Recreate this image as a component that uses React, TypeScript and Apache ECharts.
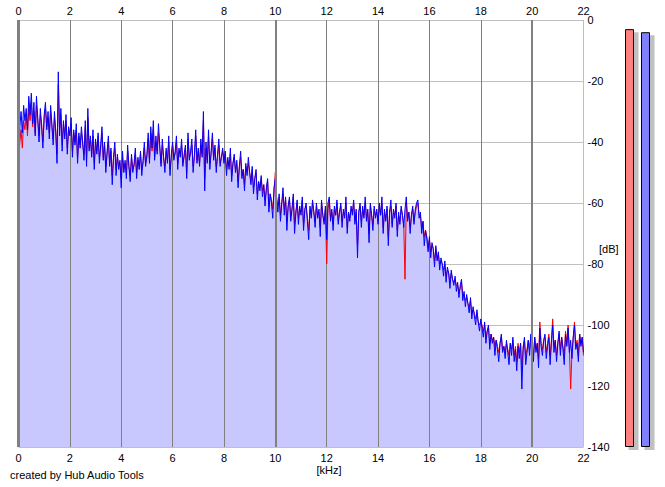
import React, { useEffect, useRef } from 'react';
import * as echarts from 'echarts';

// Frequency axis (kHz)
const FREQ_STEP_KHZ = 0.05;
const FREQ_MIN_KHZ = 0;
const FREQ_MAX_KHZ = 22;
const FREQ_TICK_KHZ = 2;
// Level axis (dB)
const DB_MIN = -140;
const DB_MAX = 0;
const DB_TICK = 20;

// Left channel spectrum (red), dB at 0.00, 0.05, ... 22.00 kHz
const leftChannelDb = [
  -48, -40, -36, -42, -33, -36, -31, -38, -29, -33,
  -27, -35, -30, -37, -28, -33, -38, -31, -34, -40,
  -32, -29, -35, -32, -37, -30, -35, -39, -32, -36,
  -44, -21, -36, -31, -41, -34, -38, -33, -42, -36,
  -37, -34, -43, -37, -40, -36, -45, -38, -41, -37,
  -41, -44, -35, -46, -32, -42, -39, -44, -38, -47,
  -40, -43, -38, -45, -42, -37, -45, -41, -48, -44,
  -40, -47, -43, -51, -45, -42, -49, -45, -48, -47,
  -52, -45, -49, -47, -50, -43, -48, -51, -45, -49,
  -48, -44, -50, -46, -48, -44, -49, -47, -42, -47,
  -45, -39, -46, -37, -43, -36, -45, -40, -43, -37,
  -42, -47, -41, -45, -48, -43, -46, -40, -49, -45,
  -41, -45, -44, -40, -47, -43, -44, -41, -47, -45,
  -42, -50, -39, -45, -44, -41, -48, -45, -38, -46,
  -43, -47, -41, -44, -33, -52, -42, -46, -38, -47,
  -44, -39, -45, -42, -48, -45, -41, -47, -45, -43,
  -46, -44, -49, -46, -48, -44, -51, -47, -45, -49,
  -47, -53, -48, -45, -51, -49, -54, -48, -50, -47,
  -50, -53, -49, -55, -52, -50, -57, -53, -55, -52,
  -56, -54, -59, -56, -53, -61, -57, -59, -62, -56,
  -50, -58, -61, -58, -64, -60, -57, -62, -59, -66,
  -61, -59, -64, -62, -58, -67, -63, -60, -65, -62,
  -63, -59, -67, -62, -61, -65, -69, -62, -64, -60,
  -63, -66, -61, -64, -63, -68, -60, -64, -66, -62,
  -80, -62, -59, -65, -63, -67, -62, -64, -60, -66,
  -63, -61, -66, -63, -64, -60, -68, -63, -65, -62,
  -63, -60, -66, -63, -74, -63, -61, -66, -62, -64,
  -60, -65, -63, -70, -61, -64, -67, -62, -64, -63,
  -66, -61, -64, -60, -68, -63, -65, -62, -71, -63,
  -61, -67, -63, -64, -61, -69, -64, -66, -62, -64,
  -67, -85, -60, -65, -63, -68, -64, -62, -66, -63,
  -61, -60, -64, -64, -68, -66, -71, -69, -71, -74,
  -72, -76, -74, -75, -79, -75, -78, -77, -80, -79,
  -80, -82, -80, -84, -82, -83, -86, -83, -85, -86,
  -85, -87, -87, -89, -88, -86, -90, -90, -92, -91,
  -93, -94, -92, -96, -95, -96, -98, -96, -99, -100,
  -99, -100, -102, -100, -104, -102, -101, -106, -103, -105,
  -104, -107, -105, -107, -109, -106, -104, -108, -107, -109,
  -106, -108, -110, -106, -108, -105, -110, -107, -112, -106,
  -109, -106, -115, -107, -105, -110, -108, -105, -108, -104,
  -107, -110, -104, -108, -106, -111, -99, -106, -108, -105,
  -104, -109, -106, -103, -110, -105, -98, -107, -105, -110,
  -106, -103, -108, -104, -107, -110, -102, -106, -100, -108,
  -121, -109, -104, -99, -107, -105, -110, -103, -106, -104,
  -110,
];

// Right channel spectrum (blue), dB at 0.00, 0.05, ... 22.00 kHz
const rightChannelDb = [
  -64, -35, -30, -37, -28, -33, -29, -36, -25, -31,
  -24, -34, -27, -38, -25, -32, -40, -29, -35, -42,
  -31, -27, -36, -30, -39, -28, -34, -41, -30, -37,
  -47, -17, -38, -29, -43, -33, -39, -31, -44, -35,
  -38, -32, -45, -36, -41, -34, -47, -37, -42, -35,
  -40, -46, -33, -48, -29, -43, -38, -45, -36, -49,
  -39, -44, -37, -47, -41, -35, -46, -40, -50, -43,
  -38, -48, -42, -54, -45, -40, -51, -44, -49, -46,
  -55, -43, -50, -46, -52, -41, -48, -53, -44, -50,
  -47, -42, -52, -45, -49, -43, -51, -46, -40, -48,
  -44, -37, -47, -35, -42, -33, -46, -38, -44, -34,
  -41, -48, -39, -45, -50, -42, -47, -38, -51, -44,
  -40, -46, -43, -38, -49, -42, -45, -39, -48, -44,
  -41, -52, -37, -46, -43, -39, -50, -44, -36, -47,
  -42, -48, -39, -45, -30, -56, -40, -47, -36, -49,
  -43, -37, -46, -41, -50, -44, -39, -48, -45, -42,
  -47, -43, -51, -45, -49, -42, -53, -47, -44, -50,
  -46, -55, -48, -43, -52, -49, -56, -47, -51, -45,
  -50, -54, -48, -57, -52, -49, -59, -53, -56, -51,
  -58, -54, -61, -55, -52, -63, -57, -60, -65, -55,
  -52, -59, -63, -57, -66, -60, -55, -64, -58, -69,
  -61, -58, -66, -62, -57, -70, -63, -59, -67, -61,
  -64, -58, -69, -62, -60, -66, -72, -61, -65, -59,
  -63, -68, -60, -65, -62, -71, -59, -64, -67, -61,
  -72, -60, -58, -66, -62, -69, -61, -64, -59, -67,
  -63, -60, -68, -62, -65, -58, -70, -63, -66, -61,
  -64, -59, -67, -62, -78, -63, -60, -68, -61, -65,
  -58, -66, -62, -73, -60, -64, -69, -61, -65, -62,
  -67, -60, -64, -58, -70, -62, -66, -61, -74, -63,
  -59, -68, -62, -65, -60, -71, -63, -67, -61, -64,
  -68, -62, -58, -66, -63, -70, -64, -61, -67, -62,
  -60, -59, -65, -63, -70, -66, -74, -69, -72, -76,
  -71, -78, -73, -75, -81, -74, -79, -76, -82, -78,
  -80, -84, -79, -86, -81, -83, -88, -82, -85, -87,
  -84, -89, -86, -91, -87, -85, -92, -89, -94, -90,
  -93, -96, -91, -98, -94, -97, -100, -95, -99, -102,
  -98, -101, -104, -99, -106, -102, -100, -108, -103, -106,
  -104, -110, -105, -108, -112, -106, -103, -109, -107, -111,
  -105, -109, -113, -106, -110, -104, -112, -108, -115, -107,
  -111, -106, -121, -108, -104, -113, -109, -105, -110, -103,
  -108, -112, -104, -109, -106, -114, -101, -107, -110, -105,
  -103, -111, -107, -104, -113, -106, -100, -109, -105, -112,
  -106, -102, -110, -104, -108, -113, -103, -107, -101, -109,
  -105, -111, -104, -100, -108, -106, -112, -103, -107, -104,
  -109,
];

// Peak level meters
const levelChannels = ['L', 'R'];
const levelDb = [-3, -4];

// Thicker vertical lines every 10 kHz
const majorFreqLinesKhz = [0, 10, 20];

const creditText = 'created by Hub Audio Tools';
const freqAxisName = '[kHz]';
const dbAxisName = '[dB]';

const FONT = '"Liberation Sans", Arial, sans-serif';

const toPoints = (arr: number[]) =>
  arr.map((v, i) => [Math.round(i * FREQ_STEP_KHZ * 100) / 100, v]);

export default function App() {
  const ref = useRef<HTMLDivElement>(null);

  useEffect(() => {
    document.body.style.margin = '0';
    if (!ref.current) return;
    const chart = echarts.init(ref.current, undefined, { renderer: 'svg' });

    const leftPts = toPoints(leftChannelDb);
    const rightPts = toPoints(rightChannelDb);
    const meterValues = levelDb.map((v) => v - DB_MIN);
    const meterColors = ['#ff8080', '#8080ff'];

    const option: any = {
      animation: false,
      textStyle: { fontFamily: FONT },
      title: {
        text: creditText,
        left: 10,
        top: 469,
        padding: 0,
        textStyle: { fontSize: 11, fontWeight: 'normal', color: '#000', fontFamily: FONT },
      },
      graphic: [
        {
          type: 'text',
          left: 599,
          top: 243,
          silent: true,
          style: { text: dbAxisName, fill: '#000', font: `11px ${FONT}` },
        },
      ],
      grid: [
        { left: 18.5, right: 81.5, top: 20, bottom: 40 },
        { left: 621.5, top: 20, width: 32, height: 427 },
        { left: 625.5, top: 23, width: 32, height: 427 },
      ],
      xAxis: [
        {
          type: 'value',
          gridIndex: 0,
          position: 'bottom',
          min: FREQ_MIN_KHZ,
          max: FREQ_MAX_KHZ,
          interval: FREQ_TICK_KHZ,
          z: 2,
          axisLine: { show: false },
          axisTick: { show: false },
          axisLabel: { color: '#000', fontSize: 11, margin: 5, fontFamily: FONT },
          splitLine: {
            show: true,
            lineStyle: {
              width: 1,
              color: ['#808080', '#808080', '#808080', '#808080', '#808080', '#808080',
                '#808080', '#808080', '#808080', '#808080', '#808080', '#c0c0c0'],
            },
          },
          name: freqAxisName,
          nameLocation: 'middle',
          nameGap: 17,
          nameMoveOverlap: false,
          nameTextStyle: { color: '#000', fontSize: 11, padding: [0, 0, 0, 56], fontFamily: FONT },
        },
        {
          type: 'value',
          gridIndex: 0,
          position: 'top',
          min: FREQ_MIN_KHZ,
          max: FREQ_MAX_KHZ,
          interval: FREQ_TICK_KHZ,
          axisLine: { show: false },
          axisTick: { show: false },
          axisLabel: { color: '#000', fontSize: 11, margin: 4, fontFamily: FONT },
          splitLine: { show: false },
        },
        { type: 'category', gridIndex: 1, data: levelChannels, show: false },
        { type: 'category', gridIndex: 2, data: levelChannels, show: false },
      ],
      yAxis: [
        {
          type: 'value',
          gridIndex: 0,
          position: 'right',
          min: DB_MIN,
          max: DB_MAX,
          interval: DB_TICK,
          axisLine: { show: false },
          axisTick: { show: false },
          axisLabel: { color: '#000', fontSize: 11, margin: 4, align: 'left', fontFamily: FONT },
          splitLine: { show: true, lineStyle: { color: '#c0c0c0', width: 1 } },
        },
        { type: 'value', gridIndex: 1, min: 0, max: DB_MAX - DB_MIN, show: false },
        { type: 'value', gridIndex: 2, min: 0, max: DB_MAX - DB_MIN, show: false },
      ],
      series: [
        {
          type: 'line',
          xAxisIndex: 0,
          yAxisIndex: 0,
          data: leftPts,
          showSymbol: false,
          silent: true,
          z: 1,
          lineStyle: { width: 0, opacity: 0 },
          areaStyle: { color: '#c8c8ff', opacity: 1, origin: 'start' },
        },
        {
          type: 'line',
          xAxisIndex: 0,
          yAxisIndex: 0,
          data: rightPts,
          showSymbol: false,
          silent: true,
          z: 1,
          lineStyle: { width: 0, opacity: 0 },
          areaStyle: { color: '#c8c8ff', opacity: 1, origin: 'start' },
        },
        {
          type: 'line',
          xAxisIndex: 0,
          yAxisIndex: 0,
          data: [],
          z: 2,
          silent: true,
          markLine: {
            symbol: 'none',
            silent: true,
            label: { show: false },
            data: majorFreqLinesKhz.map((f) => ({
              xAxis: f,
              lineStyle: { type: 'solid', color: '#808080', width: f === 0 ? 3 : 2 },
            })),
          },
        },
        {
          type: 'line',
          xAxisIndex: 0,
          yAxisIndex: 0,
          data: leftPts,
          showSymbol: false,
          silent: true,
          z: 3,
          lineStyle: { color: '#ff0000', width: 1 },
        },
        {
          type: 'line',
          xAxisIndex: 0,
          yAxisIndex: 0,
          data: rightPts,
          showSymbol: false,
          silent: true,
          z: 4,
          lineStyle: { color: '#0000ff', width: 1 },
        },
        {
          type: 'bar',
          xAxisIndex: 3,
          yAxisIndex: 2,
          data: meterValues,
          barWidth: 10,
          silent: true,
          z: 1,
          itemStyle: { color: '#c0c0c0' },
        },
        {
          type: 'bar',
          xAxisIndex: 2,
          yAxisIndex: 1,
          data: meterValues.map((v, i) => ({
            value: v,
            itemStyle: { color: meterColors[i], borderColor: '#000', borderWidth: 1 },
          })),
          barWidth: 9,
          silent: true,
          z: 2,
        },
      ],
    };

    chart.setOption(option);
    return () => chart.dispose();
  }, []);

  return <div ref={ref} style={{ width: 665, height: 487 }} />;
}
